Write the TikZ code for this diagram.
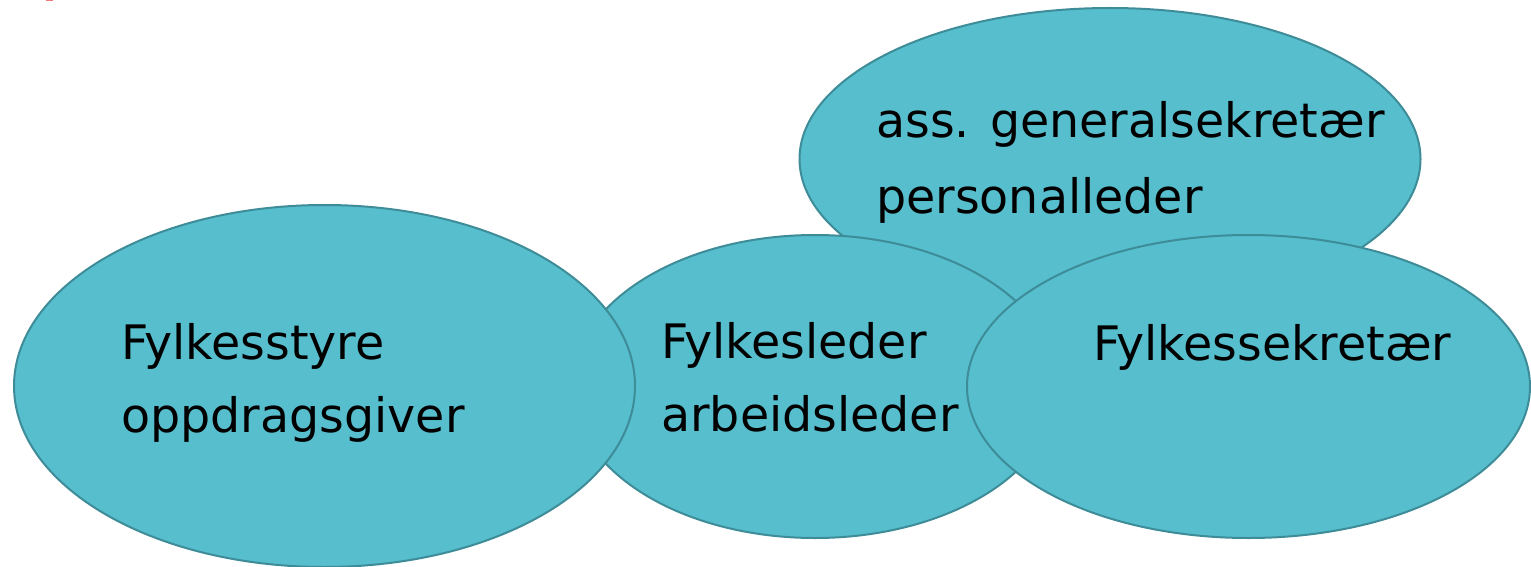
\documentclass[tikz,border=0pt]{standalone}
\usepackage{fontspec}
\setmainfont{DejaVu Sans}
\usetikzlibrary{shapes.geometric}
\definecolor{blobfill}{RGB}{86,190,205}
\definecolor{blobline}{RGB}{62,140,152}
\definecolor{markred}{RGB}{240,120,120}
\tikzset{
  blob/.style={ellipse, draw=blobline, fill=blobfill, line width=2pt, inner sep=0pt},
  lbl/.style={anchor=base west, inner sep=0pt, font=\fontsize{47.5}{58}\selectfont, text=black}
}
\begin{document}
\begin{tikzpicture}[x=1pt,y=-1pt]
\useasboundingbox (0,0) rectangle (1531,567);
\fill[markred] (46,0) rectangle (53,1.5);
\node[blob, minimum width=621pt, minimum height=302pt] (top) at (1110,159) {};
\node[blob, minimum width=486pt, minimum height=303pt] (mid) at (815,386.5) {};
\node[blob, minimum width=621pt, minimum height=362pt] (left) at (324.5,386) {};
\node[blob, minimum width=563pt, minimum height=303pt] (right) at (1248.5,386.5) {};
\node[lbl] (t1) at (876,138) {ass. generalsekretær};
\node[lbl] (t2) at (876,213) {personalleder};
\node[lbl] (l1) at (121,359) {Fylkesstyre};
\node[lbl] (l2) at (121,432) {oppdragsgiver};
\node[lbl] (m1) at (661,358) {Fylkesleder};
\node[lbl] (m2) at (661,431) {arbeidsleder};
\node[lbl] (r1) at (1093,360) {Fylkessekretær};
\end{tikzpicture}
\end{document}
